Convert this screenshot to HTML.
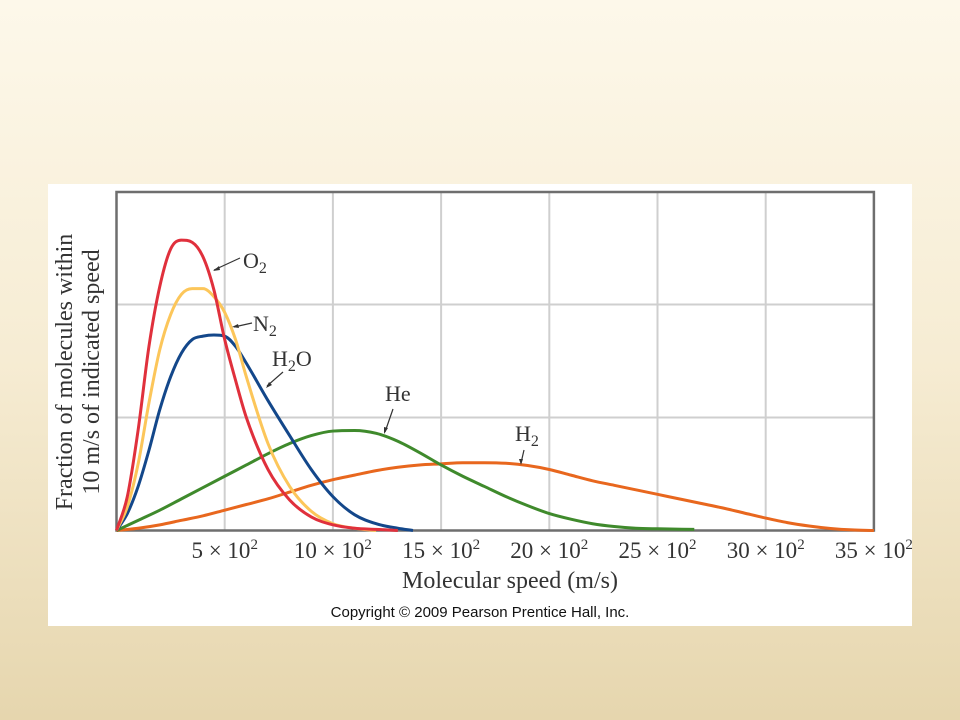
<!DOCTYPE html>
<html><head><meta charset="utf-8"><style>
html,body{margin:0;padding:0}
body{width:960px;height:720px;overflow:hidden;background:linear-gradient(#fdf8ea 0%,#f6ecd3 50%,#e6d6ae 100%);position:relative;font-family:"Liberation Serif",serif}
#panel{position:absolute;left:48px;top:184px;width:864px;height:442px;background:#fff}
svg{position:absolute;left:0;top:0}
</style></head><body>
<div id="panel"></div>
<svg id="chart" width="960" height="720"></svg>
<script>
const xTicks=[500,1000,1500,2000,2500,3000,3500];
const xTickLabels=["5","10","15","20","25","30","35"];
const yGrid=[1,2,3];
const o2Speeds=[0,50,100,150,200,250,300,350,400,450,500,550,600,700,800,900,1000,1100,1200,1300];
const o2Values=[0,0.3,0.89,1.63,2.16,2.49,2.57,2.55,2.42,2.13,1.69,1.33,1.0,0.54,0.27,0.12,0.05,0.02,0.01,0];
const n2Speeds=[0,50,100,150,200,250,300,350,400,450,500,550,600,700,800,900,1000,1100,1200];
const n2Values=[0,0.21,0.59,1.13,1.6,1.91,2.09,2.14,2.14,2.07,1.93,1.69,1.36,0.77,0.39,0.17,0.06,0.02,0];
const h2oSpeeds=[0,50,100,150,200,250,300,350,400,450,500,550,600,700,800,900,1000,1100,1200,1300,1370];
const h2oValues=[0,0.15,0.39,0.71,1.07,1.36,1.57,1.69,1.72,1.73,1.72,1.63,1.48,1.15,0.84,0.54,0.30,0.14,0.06,0.02,0];
const heSpeeds=[0,100,200,300,400,500,600,700,800,900,1000,1100,1200,1300,1400,1500,1600,1700,1800,1900,2000,2100,2200,2300,2400,2500,2670];
const heValues=[0,0.09,0.18,0.28,0.38,0.48,0.58,0.68,0.77,0.84,0.88,0.885,0.86,0.79,0.69,0.58,0.48,0.39,0.30,0.22,0.15,0.10,0.06,0.035,0.02,0.015,0.01];
const h2Speeds=[0,100,200,300,400,500,600,700,800,900,1000,1100,1200,1300,1400,1500,1600,1700,1800,1900,2000,2100,2200,2300,2400,2500,2600,2700,2800,2900,3000,3100,3200,3300,3400,3500];
const h2Values=[0,0.02,0.05,0.09,0.13,0.18,0.23,0.28,0.34,0.40,0.45,0.49,0.53,0.56,0.58,0.59,0.60,0.60,0.595,0.575,0.54,0.49,0.44,0.40,0.36,0.32,0.28,0.24,0.20,0.155,0.11,0.07,0.04,0.018,0.005,0];

const X0=116.5,Y0=530.5,PXV=108.2/500,PXU=113;
const sx=v=>X0+v*PXV, sy=u=>Y0-u*PXU;
const NS="http://www.w3.org/2000/svg";
const svg=document.getElementById('chart');
function el(t,a,p){const e=document.createElementNS(NS,t);for(const k in a)e.setAttribute(k,a[k]);(p||svg).appendChild(e);return e;}
xTicks.slice(0,-1).forEach(v=>{const l=el('line',{x1:sx(v),x2:sx(v),y1:192,y2:Y0,stroke:'#cfcfcf','stroke-width':2});

});
yGrid.slice(0,-1).forEach(u=>{const l=el('line',{x1:X0,x2:sx(3500),y1:sy(u),y2:sy(u),stroke:'#cfcfcf','stroke-width':2});

});
const frame=el('rect',{x:X0,y:192,width:sx(3500)-X0,height:Y0-192,fill:'none',stroke:'#6e6e6e','stroke-width':2.5});


// monotone cubic (Fritsch-Carlson)
function path(xs,ys){const X=xs.map(sx),Y=ys.map(sy),n=X.length;const d=[],m=[];
for(let i=0;i<n-1;i++)d.push((Y[i+1]-Y[i])/(X[i+1]-X[i]));
m[0]=d[0];m[n-1]=d[n-2];
for(let i=1;i<n-1;i++){m[i]=(d[i-1]*d[i]<=0)?0:(d[i-1]+d[i])/2;}
for(let i=0;i<n-1;i++){if(d[i]===0){m[i]=0;m[i+1]=0;continue;}const a=m[i]/d[i],b=m[i+1]/d[i],s=a*a+b*b;if(s>9){const t=3/Math.sqrt(s);m[i]=t*a*d[i];m[i+1]=t*b*d[i];}}
let p='M'+X[0]+','+Y[0];
for(let i=0;i<n-1;i++){const h=(X[i+1]-X[i])/3;p+=' C'+(X[i]+h)+','+(Y[i]+m[i]*h)+' '+(X[i+1]-h)+','+(Y[i+1]-m[i+1]*h)+' '+X[i+1]+','+Y[i+1];}
return p;}
const series=[[h2Speeds,h2Values,'#e8671e','h2-curve'],[heSpeeds,heValues,'#3f8a2c','he-curve'],[h2oSpeeds,h2oValues,'#13478a','h2o-curve'],[n2Speeds,n2Values,'#fcc65a','n2-curve'],[o2Speeds,o2Values,'#e0303c','o2-curve']];
series.forEach(s=>{const p=el('path',{d:path(s[0],s[1]),fill:'none',stroke:s[2],'stroke-width':3,'stroke-linejoin':'round'});

});
xTicks.forEach((v,i)=>{const t=el('text',{x:sx(v),y:558,'text-anchor':'middle','font-size':23,fill:'#333','font-family':'Liberation Serif, serif'});


t.innerHTML=xTickLabels[i]+' × 10<tspan dy="-9" font-size="15">2</tspan>';});
</script>
<svg width="960" height="720" style="position:absolute;left:0;top:0" font-family="Liberation Serif, serif" fill="#333">
<g font-size="22" stroke-width="1.2">
<text x="243" y="268">O<tspan dy="5" font-size="16">2</tspan></text>
<line x1="240" y1="258" x2="214" y2="270" stroke="#333"/><path d="M213,271 l6,-5 l1,4 z" fill="#333"/>
<text x="253" y="331">N<tspan dy="5" font-size="16">2</tspan></text>
<line x1="252" y1="323" x2="234" y2="327" stroke="#333"/><path d="M232,327 l6,-3 l1,4 z" fill="#333"/>
<text x="272" y="366">H<tspan dy="5" font-size="16">2</tspan><tspan dy="-5">O</tspan></text>
<line x1="283" y1="372" x2="267" y2="386" stroke="#333"/><path d="M266,388 l3,-6 l3,3 z" fill="#333"/>
<text x="385" y="401">He</text>
<line x1="393" y1="409" x2="385" y2="432" stroke="#333"/><path d="M384,434 l0,-7 l4,1 z" fill="#333"/>
<text x="515" y="441">H<tspan dy="5" font-size="16">2</tspan></text>
<line x1="524" y1="450" x2="521" y2="463" stroke="#333"/><path d="M521,465 l-2,-6 l4,0 z" fill="#333"/>
</g>
<text x="510" y="588" text-anchor="middle" font-size="24">Molecular speed (m/s)</text>
<g transform="translate(72,372) rotate(-90)" font-size="24">
<text x="0" y="0" text-anchor="middle">Fraction of molecules within</text>
<text x="0" y="27" text-anchor="middle">10 m/s of indicated speed</text>
</g>
<text x="480" y="617" text-anchor="middle" font-size="15" font-family="Liberation Sans, sans-serif" fill="#111">Copyright © 2009 Pearson Prentice Hall, Inc.</text>
</svg>
</body></html>
